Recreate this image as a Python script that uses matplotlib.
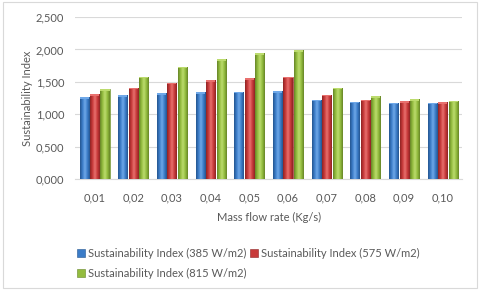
import numpy as np
import matplotlib
matplotlib.use("Agg")
import matplotlib.pyplot as plt
from matplotlib.patches import Rectangle
from matplotlib.ticker import FuncFormatter

# Daten
flow_labels = ["0,01", "0,02", "0,03", "0,04", "0,05", "0,06", "0,07", "0,08", "0,09", "0,10"]
si_385 = [1.26, 1.29, 1.32, 1.34, 1.35, 1.36, 1.225, 1.195, 1.18, 1.18]
si_575 = [1.31, 1.41, 1.485, 1.53, 1.555, 1.58, 1.30, 1.225, 1.205, 1.185]
si_815 = [1.39, 1.58, 1.735, 1.85, 1.94, 1.99, 1.41, 1.28, 1.235, 1.21]
series_names = ["Sustainability Index (385 W/m2)",
                "Sustainability Index (575 W/m2)",
                "Sustainability Index (815 W/m2)"]

# (hell, mittel, dunkel) pro Serie
colors = [("#6FA8E8", "#3B7CC8", "#24558F"),
          ("#E8706E", "#C83A3A", "#8E2424"),
          ("#BCDB6E", "#93BC3E", "#668528")]

plt.rcParams["font.family"] = ["Lato", "DejaVu Sans"]
txt = "#595959"
fs = 8

fig = plt.figure(figsize=(4.8, 2.9), dpi=100)
ax = fig.add_axes([0.1567, 0.383, 0.806, 0.558])

x = np.arange(len(flow_labels))
width = 0.233
pitch = 0.27

handles = []
for i, (vals, col) in enumerate(zip([si_385, si_575, si_815], colors)):
    bars = ax.bar(x + (i - 1) * pitch, vals, width, color=col[1],
                  edgecolor=col[2], linewidth=0.4, label=series_names[i], zorder=2)
    handles.append(bars)
    cmap = matplotlib.colors.LinearSegmentedColormap.from_list(
        "g", [col[2], col[1], col[0], col[1], col[2]])
    grad = np.linspace(0, 1, 64).reshape(1, -1)
    for b in bars:
        bx, by = b.get_x(), b.get_y()
        bw, bh = b.get_width(), b.get_height()
        im = ax.imshow(grad, cmap=cmap, aspect="auto", zorder=3,
                       extent=[bx, bx + bw, by, by + bh])
        im.set_clip_path(b)
        # heller Deckel oben
        ax.add_patch(Rectangle((bx, by + bh - 0.025), bw, 0.025,
                               color=col[0], zorder=4, lw=0))

ax.set_xlim(-0.5, len(flow_labels) - 0.5)
ax.set_ylim(0, 2.5)
ax.set_yticks(np.arange(0, 2.51, 0.5))
ax.yaxis.set_major_formatter(FuncFormatter(lambda v, p: f"{v:,.3f}".replace(".", ",")))
ax.set_xticks(x)
ax.set_xticklabels(flow_labels)
ax.grid(axis="y", color="#D9D9D9", linewidth=0.8, zorder=0)
for s in ax.spines.values():
    s.set_visible(False)
ax.spines["bottom"].set_visible(True)
ax.spines["bottom"].set_color("#D9D9D9")
ax.tick_params(axis="x", length=0, labelsize=fs, colors=txt, pad=10)
ax.tick_params(axis="y", length=0, labelsize=fs, colors=txt, pad=8)
ax.set_xlabel("Mass flow rate (Kg/s)", fontsize=fs, color=txt, labelpad=6)
ax.set_ylabel("Sustainability Index", fontsize=fs, color=txt, labelpad=2)

# Reihenfolge so, dass 385/575 oben und 815 unten steht
order = [0, 2, 1]
leg = fig.legend([handles[k] for k in order], [series_names[k] for k in order],
                 loc="upper left", bbox_to_anchor=(0.14, 0.18), ncol=2,
                 frameon=False, fontsize=fs, handlelength=0.7, handleheight=0.7,
                 handletextpad=0.3, columnspacing=0.3, labelspacing=0.8)
for t in leg.get_texts():
    t.set_color(txt)

fig.patches.append(Rectangle((0.006, 0.008), 0.988, 0.984, transform=fig.transFigure,
                             fill=False, edgecolor="#D9D9D9", linewidth=0.8))

fig.savefig("out.png", dpi=100)
